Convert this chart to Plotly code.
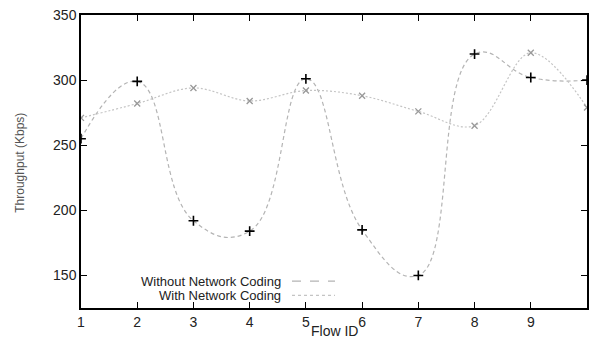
import plotly.graph_objects as go

flow_id = [1, 2, 3, 4, 5, 6, 7, 8, 9, 10]
without_nc = [255, 299, 192, 184, 301, 185, 150, 320, 302, 300]
with_nc = [271, 282, 294, 284, 292, 288, 276, 265, 321, 279]
x_ticks = [1, 2, 3, 4, 5, 6, 7, 8, 9, 10]
y_ticks = [150, 200, 250, 300, 350]

FONT = "Liberation Sans, Arial, sans-serif"
TXT = "#222222"

fig = go.Figure()
fig.add_trace(go.Scatter(
    x=flow_id, y=without_nc, mode="lines+markers",
    name="Without Network Coding",
    line=dict(shape="spline", smoothing=1.3, color="#b4b4b4", width=1.2, dash="4px,3px"),
    marker=dict(symbol="cross-thin", size=7, line=dict(color="black", width=1.6)),
    cliponaxis=True, showlegend=False,
))
fig.add_trace(go.Scatter(
    x=flow_id, y=with_nc, mode="lines+markers",
    name="With Network Coding",
    line=dict(shape="spline", smoothing=1.0, color="#c4c4c4", width=1.2, dash="2px,2px"),
    marker=dict(symbol="x-thin", size=6, line=dict(color="#999999", width=1.3)),
    cliponaxis=True, showlegend=False,
))

# legend drawn gnuplot-style: right-aligned text followed by a line sample
legend_items = [("Without Network Coding", "#b4b4b4", "dash", 0.092),
                ("With Network Coding", "#c4c4c4", "dot", 0.043)]
for label, col, dash, yy in legend_items:
    fig.add_annotation(x=0.398, y=yy, xref="paper", yref="paper", text=label,
                       showarrow=False, xanchor="right", yanchor="middle",
                       borderpad=0, font=dict(family=FONT, size=13, color=TXT))
    fig.add_shape(type="line", xref="paper", yref="paper", x0=0.417, x1=0.502,
                  y0=yy, y1=yy, line=dict(color=col, width=1.2, dash=dash))

# axis titles
fig.add_annotation(x=0.5, y=-0.079, xref="paper", yref="paper", text="Flow ID",
                   showarrow=False, xanchor="center", yanchor="middle", borderpad=0,
                   font=dict(family=FONT, size=14, color=TXT))
fig.add_annotation(x=-0.121, y=0.495, xref="paper", yref="paper", text="Throughput (Kbps)",
                   showarrow=False, xanchor="center", yanchor="middle", textangle=-90,
                   font=dict(family=FONT, size=12, color="#555555"))

fig.update_layout(
    width=591, height=341,
    margin=dict(l=81, r=4, t=15, b=33),
    paper_bgcolor="white", plot_bgcolor="white",
    font=dict(family=FONT, size=14, color=TXT),
    showlegend=False,
)
fig.update_xaxes(
    range=[1, 10], tickvals=x_ticks, ticktext=[str(v) for v in x_ticks],
    ticks="inside", ticklen=6, tickwidth=1.3, tickcolor="black",
    showline=True, linecolor="black", linewidth=1.5, mirror="ticks",
    showgrid=False, zeroline=False, automargin=False,
    tickfont=dict(size=14, color=TXT),
)
fig.update_yaxes(
    range=[125, 350], tickvals=y_ticks, ticktext=[str(v) for v in y_ticks],
    ticks="inside", ticklen=6, tickwidth=1.3, tickcolor="black",
    showline=True, linecolor="black", linewidth=1.5, mirror="ticks",
    showgrid=False, zeroline=False, automargin=False,
    tickfont=dict(size=14, color=TXT),
)

fig.write_html("out.html")
